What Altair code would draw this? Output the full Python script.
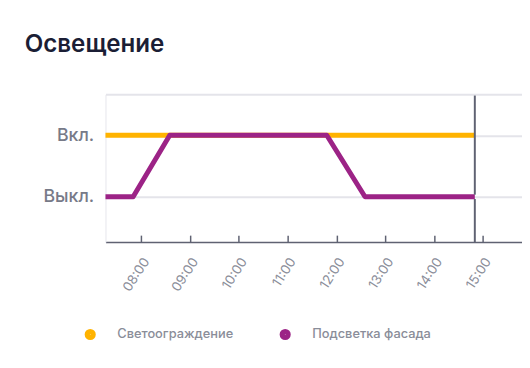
import altair as alt
import pandas as pd

# ---- data ----
series_names = ["Светоограждение", "Подсветка фасада"]
series_colors = ["#FFB300", "#9C2386"]

svet_times = ["07:16", "14:50"]
svet_values = [1, 1]

fasad_times = ["07:16", "07:50", "08:35", "11:48", "12:35", "14:50"]
fasad_values = [0, 0, 1, 1, 0, 0]

now_time = "14:50"
tick_hours = ["08:00", "09:00", "10:00", "11:00", "12:00", "13:00", "14:00", "15:00"]
x_domain = ["07:16", "15:48"]

y_on, y_off = 1, 0
y_on_label, y_off_label = "Вкл.", "Выкл."
y_domain = [-0.735, 1.665]

DAY = "2024-01-01T"


def ts(t):
    return DAY + t + ":00"


def dt(t):
    h, m = t.split(":")
    return alt.DateTime(year=2024, month=1, date=1, hours=int(h), minutes=int(m))


df = pd.DataFrame(
    {"t": [ts(t) for t in svet_times], "v": svet_values, "s": series_names[0]}
)
df2 = pd.DataFrame(
    {"t": [ts(t) for t in fasad_times], "v": fasad_values, "s": series_names[1]}
)
now_df = pd.DataFrame(
    {
        "t": [ts(now_time), ts(now_time)],
        "y1": [y_domain[1] - 0.02, y_off - 0.035],
        "y2": [y_off + 0.035, y_domain[0]],
    }
)

FONT = "Inter"
GRAY = "#8a8d99"
AXIS_DARK = "#5f6272"

x_scale = alt.Scale(domain=[dt(x_domain[0]), dt(x_domain[1])])
y_scale = alt.Scale(domain=y_domain, nice=False, zero=False)

color = alt.Color(
    "s:N",
    scale=alt.Scale(domain=series_names, range=series_colors),
    sort=series_names,
    legend=alt.Legend(
        title=None,
        orient="none",
        legendX=-22,
        legendY=237,
        direction="horizontal",
        symbolType="circle",
        symbolSize=28,
        symbolStrokeWidth=6,
        labelFont=FONT,
        labelFontSize=13,
        labelFontWeight=500,
        labelColor=GRAY,
        labelOffset=21,
        columnPadding=37,
    ),
)

x_main = alt.X(
    "t:T",
    scale=x_scale,
    axis=alt.Axis(
        title=None,
        orient="bottom",
        values=[dt(h) for h in tick_hours],
        format="%H:%M",
        labelAngle=303,
        labelAlign="right",
        labelBaseline="middle",
        labelPadding=17,
        labelOffset=5,
        labelFont=FONT,
        labelFontSize=13.5,
        labelColor=GRAY,
        ticks=False,
        grid=False,
        domainColor=AXIS_DARK,
        domainWidth=1.5,
    ),
)

y_main = alt.Y(
    "v:Q",
    scale=y_scale,
    axis=alt.Axis(
        title=None,
        values=[y_off, y_on, y_domain[1]],
        labelExpr=f"datum.value == {y_on} ? '{y_on_label}' : (datum.value == {y_off} ? '{y_off_label}' : '')",
        labelFont=FONT,
        labelFontSize=18,
        labelFontWeight=500,
        labelColor="#777a88",
        labelPadding=12,
        ticks=False,
        grid=True,
        gridColor="#e4e4ea",
        gridWidth=2,
        domainColor="#e6e6ec",
        domainWidth=1,
    ),
)

svet = (
    alt.Chart(df)
    .mark_line(strokeWidth=5, strokeJoin="round")
    .encode(x=x_main, y=y_main, color=color)
)
fasad = (
    alt.Chart(df2)
    .mark_line(strokeWidth=5, strokeJoin="round")
    .encode(
        x=alt.X("t:T", scale=x_scale, axis=None),
        y=alt.Y("v:Q", scale=y_scale),
        color=color,
    )
)

now_rule = (
    alt.Chart(now_df)
    .mark_rule(color=AXIS_DARK, strokeWidth=2)
    .encode(
        x=alt.X(
            "t:T",
            scale=x_scale,
            axis=alt.Axis(
                title=None,
                orient="bottom",
                values=[dt(h) for h in tick_hours],
                labels=False,
                domain=False,
                grid=False,
                ticks=True,
                tickSize=7,
                offset=-7,
                tickColor=AXIS_DARK,
                tickWidth=1.5,
            ),
        ),
        y=alt.Y("y1:Q", scale=y_scale),
        y2="y2:Q",
    )
)

chart = (
    alt.layer(svet, fasad, now_rule)
    .resolve_axis(x="independent")
    .properties(
        width=423,
        height=150,
        autosize=alt.AutoSizeParams(type="none"),
        padding={"left": 99, "top": 85, "right": 0, "bottom": 110},
        background="white",
        title=alt.TitleParams(
            "Освещение",
            anchor="start",
            frame="group",
            dx=-82,
            offset=19,
            baseline="alphabetic",
            font=FONT,
            fontSize=24.5,
            fontWeight=600,
            color="#1b1e35",
        ),
    )
    .configure_view(stroke=None)
)

chart.save("out.html", embed_options={"renderer": "svg", "actions": False})
